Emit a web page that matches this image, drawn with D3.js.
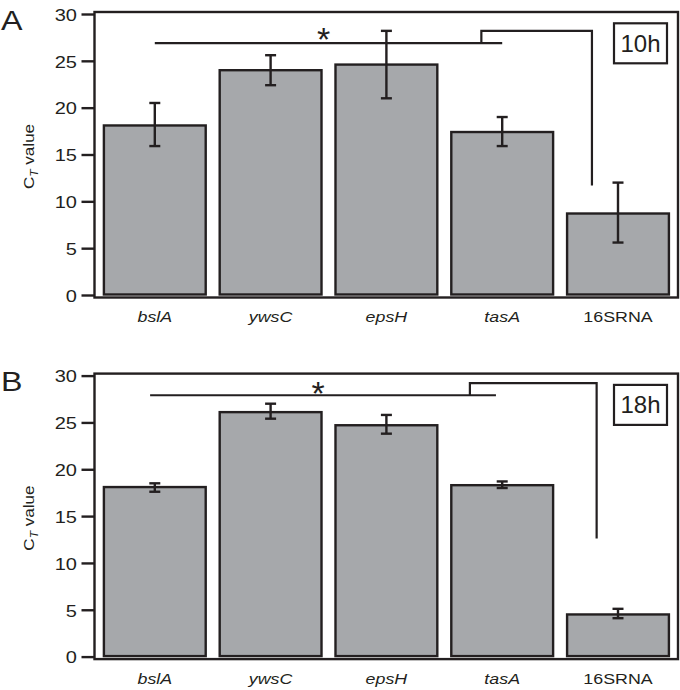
<!DOCTYPE html>
<html><head><meta charset="utf-8">
<script src="https://cdn.jsdelivr.net/npm/d3@7"></script>
<style>
html,body{margin:0;padding:0;background:#fff;}
svg{display:block;}
text{font-family:"Liberation Sans",Arial,Helvetica,sans-serif;fill:#231f20;}
</style></head>
<body>
<svg id="chart" width="680" height="690"></svg>
<script>
// ---------------- data ----------------
const categories = ["bslA", "ywsC", "epsH", "tasA", "16SRNA"];
const italicLabel = [true, true, true, true, false];
const yTicks = [0, 5, 10, 15, 20, 25, 30];
const panelLetters = ["A", "B"];
const timeLabels = ["10h", "18h"];

const means10h = [18.1, 24.0, 24.6, 17.4, 8.7];
const errLow10h = [15.9, 22.4, 21.0, 15.9, 5.6];
const errHigh10h = [20.5, 25.6, 28.2, 19.0, 12.0];

const means18h = [18.1, 26.1, 24.7, 18.3, 4.5];
const errLow18h = [17.6, 25.4, 23.8, 18.0, 4.1];
const errHigh18h = [18.5, 27.0, 25.8, 18.7, 5.1];

// significance brackets: base line level, raised level, drop end level, asterisk centre (CT units)
const bracketLevels10h = [26.9, 28.2, 11.7, 28.1];
const bracketLevels18h = [27.9, 29.2, 12.6, 28.9];
const significanceMark = "*";

// ---------------- layout ----------------
const INK = "#231f20";
const BAR = "#a6a8ab";
const panels = [
  { top: 14, means: means10h, lo: errLow10h, hi: errHigh10h, br: bracketLevels10h,
    brX: [0.5, 0.5, 0.3, 0.25], letter: panelLetters[0], time: timeLabels[0] },
  { top: 375.6, means: means18h, lo: errLow18h, hi: errHigh18h, br: bracketLevels18h,
    brX: [0.455, 0.44, 0.19, 0.295], letter: panelLetters[1], time: timeLabels[1] }
];
const plotH = 281;
const frameL = 94.5, frameR = 678;

const svg = d3.select("#chart");

const x = d3.scaleBand().domain(categories).range([96.9, 675.9])
  .paddingInner(0.1).paddingOuter(0.05);

function stretchedText(g, px, py, str, sx, size) {
  return g.append("text")
    .attr("transform", `translate(${px},${py}) scale(${sx},1)`)
    .style("font-size", size + "px")
    .text(str);
}

panels.forEach((p, pi) => {
  const g = svg.append("g");
  const y = d3.scaleLinear().domain([0, 30]).range([p.top + plotH, p.top]);

  // frame
  g.append("rect")
    .attr("x", frameL).attr("y", y(30) - 2)
    .attr("width", frameR - frameL).attr("height", y(0) - y(30) + 4.5)
    .attr("fill", "none").attr("stroke", INK).attr("stroke-width", 2.4);

  // y axis ticks
  const yAxis = d3.axisLeft(y).tickValues(yTicks).tickSize(13).tickPadding(4).tickFormat(d3.format("d"));
  const ax = g.append("g").attr("transform", `translate(${frameL},0)`).call(yAxis);
  ax.select(".domain").remove();
  ax.selectAll(".tick line").attr("stroke", INK).attr("stroke-width", 2.4);
  ax.selectAll(".tick text").remove();
  yTicks.forEach(v => {
    stretchedText(g, 77, y(v) + 1, String(v), 1.25, 16)
      .attr("text-anchor", "end").attr("dy", "0.36em");
  });

  // bars
  g.selectAll("rect.bar").data(categories).join("rect")
    .attr("class", "bar")
    .attr("x", d => x(d) + 1.2)
    .attr("width", x.bandwidth() - 2.4)
    .attr("y", (d, i) => y(p.means[i]))
    .attr("height", (d, i) => y(0) - y(p.means[i]) - 0.5)
    .attr("fill", BAR).attr("stroke", INK).attr("stroke-width", 2.4);

  // error bars
  const cx = d => x(d) + x.bandwidth() / 2;
  const capW = 5.5;
  const eb = g.selectAll("g.err").data(categories).join("g").attr("class", "err")
    .attr("stroke", INK).attr("stroke-width", 2.4).attr("fill", "none");
  eb.append("line").attr("x1", cx).attr("x2", cx)
    .attr("y1", (d, i) => y(p.lo[i])).attr("y2", (d, i) => y(p.hi[i]));
  eb.append("line").attr("x1", d => cx(d) - capW).attr("x2", d => cx(d) + capW)
    .attr("y1", (d, i) => y(p.hi[i])).attr("y2", (d, i) => y(p.hi[i]));
  eb.append("line").attr("x1", d => cx(d) - capW).attr("x2", d => cx(d) + capW)
    .attr("y1", (d, i) => y(p.lo[i])).attr("y2", (d, i) => y(p.lo[i]));

  // significance bracket
  const bx = (cat, f) => x(cat) + x.bandwidth() * f;
  const xl = bx(categories[0], p.brX[0]);
  const xr = bx(categories[3], p.brX[1]);
  const xs = bx(categories[3], p.brX[2]);
  const xd = bx(categories[4], p.brX[3]);
  g.append("line").attr("x1", xl).attr("x2", xr)
    .attr("y1", y(p.br[0])).attr("y2", y(p.br[0]))
    .attr("stroke", INK).attr("stroke-width", 2.2);
  g.append("path")
    .attr("d", d3.line()([[xs, y(p.br[0])], [xs, y(p.br[1])], [xd, y(p.br[1])], [xd, y(p.br[2])]]))
    .attr("fill", "none").attr("stroke", INK).attr("stroke-width", 2.2);
  g.append("text")
    .attr("x", (xl + xr) / 2 - 5)
    .attr("y", y(p.br[3]) + 19)
    .attr("text-anchor", "middle")
    .style("font-size", "34px")
    .text(significanceMark);

  // time label box
  g.append("rect")
    .attr("x", 614).attr("y", y(30) + 9.3)
    .attr("width", 53).attr("height", 40)
    .attr("fill", "#fff").attr("stroke", INK).attr("stroke-width", 2.2);
  g.append("text")
    .attr("x", 640.5).attr("y", y(30) + 37.7)
    .attr("text-anchor", "middle")
    .style("font-size", "24px")
    .text(p.time);

  // x labels
  categories.forEach((c, i) => {
    stretchedText(g, cx(c), y(0) + 27.3, c, 1.15, 15.5)
      .attr("text-anchor", "middle")
      .style("font-style", italicLabel[i] ? "italic" : "normal");
  });

  // y label
  const yl = g.append("text")
    .attr("transform", `translate(33.5,${y(0) - 138.5}) rotate(-90) scale(1.1,1)`)
    .attr("text-anchor", "middle")
    .style("font-size", "15.5px");
  yl.append("tspan").text("C");
  yl.append("tspan").attr("dy", 4).style("font-size", "11px").style("font-style", "italic").text("T");
  yl.append("tspan").attr("dy", -4).text(" value");

  // panel letter
  stretchedText(g, 1, y(30) + 15.5, p.letter, 1.15, 28);
});
</script>
</body></html>
